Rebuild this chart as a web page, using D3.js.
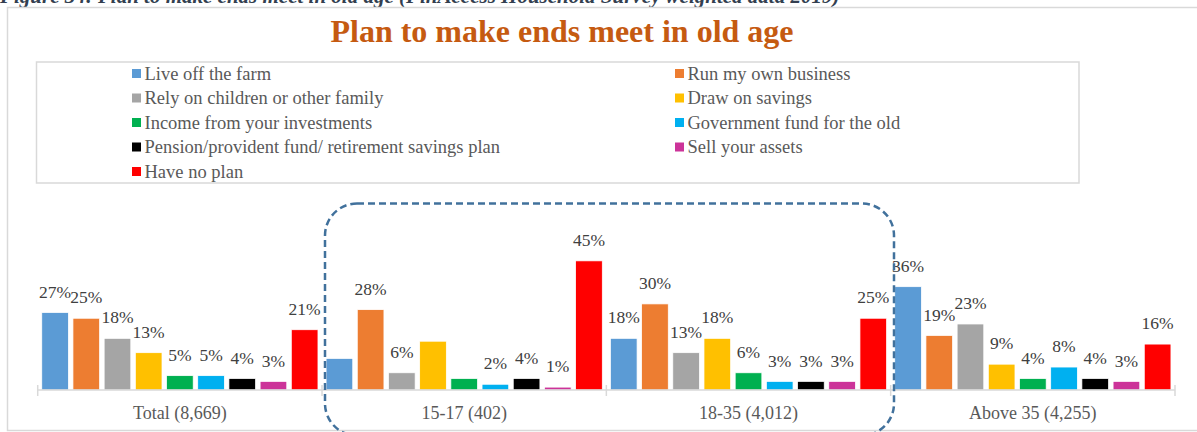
<!DOCTYPE html>
<html>
<head>
<meta charset="utf-8">
<script src="https://cdn.jsdelivr.net/npm/d3@7/dist/d3.min.js"></script>
<style>
  html, body { margin: 0; padding: 0; background: #fff; overflow: hidden; }
</style>
</head>
<body>
<svg id="chart" width="1197" height="432" font-family="'Liberation Serif', 'Times New Roman', serif"></svg>
<script>
// Age groups (with sample sizes) along the x axis
const groups = ["Total (8,669)", "15-17 (402)", "18-35 (4,012)", "Above 35 (4,255)"];

// Plans, in legend / bar order
const series = [
  "Live off the farm",
  "Run my own business",
  "Rely on children or other family",
  "Draw on savings",
  "Income from your investments",
  "Government fund for the old",
  "Pension/provident fund/ retirement savings plan",
  "Sell your assets",
  "Have no plan"
];

const colors = ["#5B9BD5", "#ED7D31", "#A5A5A5", "#FFC000", "#00B050", "#00B0F0", "#000000", "#CC3399", "#FF0000"];

// Percent of respondents per plan, one row per age group
const totalValues   = [27, 25, 18, 13, 5, 5, 4, 3, 21];
const age1517Values = [11, 28, 6, 17, 4, 2, 4, 1, 45];
const age1835Values = [18, 30, 13, 18, 6, 3, 3, 3, 25];
const above35Values = [36, 19, 23, 9, 4, 8, 4, 3, 16];
const values = [totalValues, age1517Values, age1835Values, above35Values];

// Data labels that are not shown: [group index, series index]
const hiddenLabels = [[1, 0], [1, 3], [1, 4]];

const caption = "Figure 34: Plan to make ends meet in old age (FinAccess Household Survey weighted data 2019)";
const title = "Plan to make ends meet in old age";

const svg = d3.select("#chart");

// Figure caption, running off the top of the page
svg.append("text")
  .attr("x", 0).attr("y", 3)
  .attr("font-size", 21).attr("font-weight", "bold").attr("font-style", "italic")
  .attr("fill", "#333F50")
  .text(caption);

// Chart area border
svg.append("path")
  .attr("d", "M1200,7.5 H7.5 V430.5 H1200")
  .attr("fill", "none").attr("stroke", "#D9D9D9").attr("stroke-width", 1.5);

// Title
svg.append("text")
  .attr("x", 562).attr("y", 42)
  .attr("text-anchor", "middle")
  .attr("font-size", 32).attr("font-weight", "bold")
  .attr("fill", "#C55A11")
  .text(title);

// Legend
svg.append("rect")
  .attr("x", 36.5).attr("y", 62).attr("width", 1042.5).attr("height", 121)
  .attr("fill", "#fff").attr("stroke", "#D9D9D9").attr("stroke-width", 1.5);

const legendCols = [132, 675];
const legendRow = d3.scaleLinear().domain([0, 4]).range([73.5, 171.5]);
const legend = svg.append("g").selectAll("g")
  .data(series)
  .join("g")
  .attr("transform", (d, i) => `translate(${legendCols[i % 2]},${legendRow(Math.floor(i / 2))})`);
legend.append("rect")
  .attr("x", 0).attr("y", -4.5).attr("width", 9).attr("height", 9)
  .attr("fill", (d, i) => colors[i]);
legend.append("text")
  .attr("x", 12.5).attr("y", 0).attr("dy", "0.35em")
  .attr("font-size", 18.5).attr("fill", "#595959")
  .text(d => d);

// Scales
const x0 = d3.scaleBand().domain(groups).range([37.7, 1175]);
const x1 = d3.scaleBand().domain(d3.range(series.length))
  .range([0, x0.bandwidth()]).paddingInner(0.145).paddingOuter(0.13);
const y = d3.scaleLinear().domain([0, 50]).range([390, 246.5]);

// Bars
const gGroups = svg.append("g").selectAll("g")
  .data(groups)
  .join("g")
  .attr("transform", d => `translate(${x0(d)},0)`);

gGroups.selectAll("rect")
  .data((g, gi) => values[gi].map((v, si) => ({ v, si, gi })))
  .join("rect")
  .attr("x", d => x1(d.si))
  .attr("y", d => y(d.v))
  .attr("width", x1.bandwidth())
  .attr("height", d => y(0) - y(d.v))
  .attr("fill", d => colors[d.si])
  .attr("stroke", "#fff").attr("stroke-width", 0.75);

// Value labels
const isHidden = d => hiddenLabels.some(h => h[0] === d.gi && h[1] === d.si);
gGroups.selectAll("text.val")
  .data((g, gi) => values[gi].map((v, si) => ({ v, si, gi })).filter(d => !isHidden(d)))
  .join("text")
  .attr("class", "val")
  .attr("x", d => x1(d.si) + x1.bandwidth() / 2)
  .attr("y", d => y(d.v) - 21)
  .attr("dy", "0.35em")
  .attr("text-anchor", "middle")
  .attr("font-size", 17.5).attr("fill", "#404040")
  .text(d => d.v + "%");

// Category axis
const axis = svg.append("g").attr("transform", "translate(0,390)");
axis.append("line")
  .attr("x1", 37.7).attr("x2", 1175)
  .attr("stroke", "#D9D9D9").attr("stroke-width", 1.5);
const boundaries = groups.map(g => x0(g)).concat([x0(groups[groups.length - 1]) + x0.bandwidth()]);
axis.selectAll("line.tick")
  .data(boundaries)
  .join("line")
  .attr("class", "tick")
  .attr("x1", d => d).attr("x2", d => d)
  .attr("y1", -5).attr("y2", 6)
  .attr("stroke", "#D9D9D9").attr("stroke-width", 1.5);
axis.selectAll("text")
  .data(groups)
  .join("text")
  .attr("x", d => x0(d) + x0.bandwidth() / 2)
  .attr("y", 23).attr("dy", "0.35em")
  .attr("text-anchor", "middle")
  .attr("font-size", 18).attr("fill", "#595959")
  .text(d => d);

// Dashed outline around the two youngest age groups
svg.append("rect")
  .attr("x", 325).attr("y", 203.5)
  .attr("width", 569).attr("height", 232)
  .attr("rx", 32).attr("ry", 32)
  .attr("fill", "none")
  .attr("stroke", "#41719C").attr("stroke-width", 2.5)
  .attr("stroke-dasharray", "7,4");
</script>
</body>
</html>
